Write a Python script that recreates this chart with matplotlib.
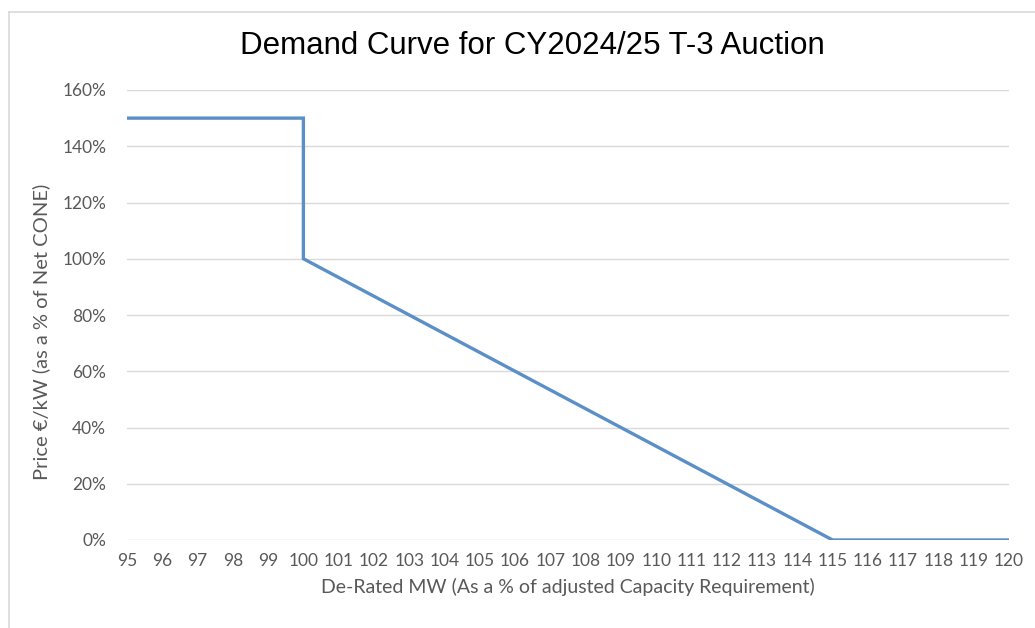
import matplotlib.pyplot as plt
import numpy as np
from matplotlib.ticker import FuncFormatter

# Demand curve breakpoints (x: % of adjusted capacity requirement, y: % of Net CONE)
x_mw = [95, 100, 100, 115, 120]
y_price = [150, 150, 100, 0, 0]
x_ticks = list(range(95, 121))
y_ticks = [0, 20, 40, 60, 80, 100, 120, 140, 160]

W, H = 1035, 628
fig = plt.figure(figsize=(W / 100, H / 100), dpi=100)

# outer light frame (top and left edges visible)
fig.add_artist(plt.Line2D([8.5 / W, 1], [1 - 11.5 / H, 1 - 11.5 / H],
                          transform=fig.transFigure, color="#d9d9d9", lw=1.2))
fig.add_artist(plt.Line2D([8.5 / W, 8.5 / W], [0, 1 - 11.5 / H],
                          transform=fig.transFigure, color="#d9d9d9", lw=1.2))

left, right, top, bottom = 127, 1009, 90, 540
ax = fig.add_axes([left / W, 1 - bottom / H, (right - left) / W, (bottom - top) / H])

ax.plot(x_mw, y_price, color="#5b8fc7", lw=2.4, solid_joinstyle="miter", zorder=3)

ax.set_xlim(95, 120)
ax.set_ylim(0, 160)
ax.set_xticks(x_ticks)
ax.set_yticks(y_ticks)
ax.yaxis.set_major_formatter(FuncFormatter(lambda v, _: f"{v:.0f}%"))
ax.grid(axis="y", color="#d9d9d9", lw=1)
ax.set_axisbelow(True)
for s in ax.spines.values():
    s.set_visible(False)
ax.tick_params(length=0, labelsize=12.5, labelcolor="#595959")
ax.tick_params(axis="x", pad=9)
ax.tick_params(axis="y", pad=15)
for lab in ax.get_xticklabels() + ax.get_yticklabels():
    lab.set_fontfamily("Lato")

ax.set_xlabel("De-Rated MW (As a % of adjusted Capacity Requirement)",
              fontsize=14, color="#595959", family="Lato", labelpad=7)
ax.set_ylabel("Price €/kW (as a % of Net CONE)",
              fontsize=14.5, color="#595959", family="Lato")
ax.yaxis.set_label_coords((50 - left) / (right - left), (bottom - 332) / (bottom - top))

fig.text(532 / W, 1 - 46 / H, "Demand Curve for CY2024/25 T-3 Auction",
         ha="center", va="center", fontsize=22.5, family="Liberation Sans",
         color="#000000")

fig.savefig("out.png", dpi=100)
